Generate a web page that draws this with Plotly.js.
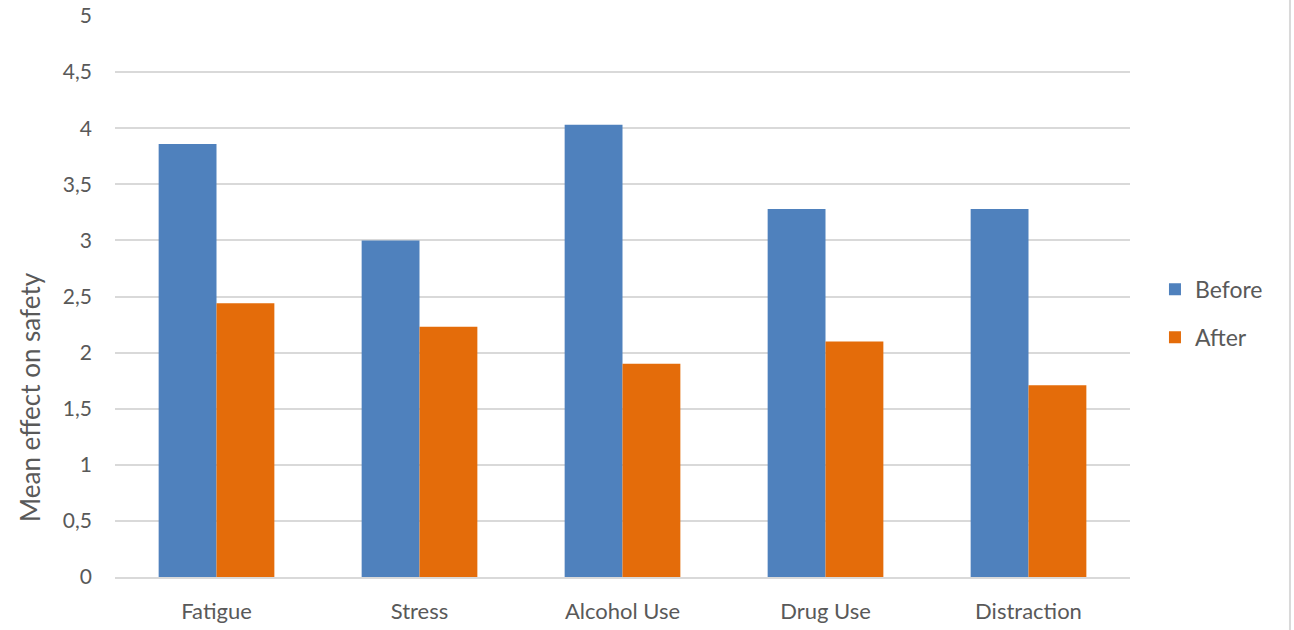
<!DOCTYPE html>
<html>
<head>
<meta charset="utf-8">
<script src="https://cdn.plot.ly/plotly-3.0.1.min.js"></script>
<style>
  html, body { margin: 0; padding: 0; background: #ffffff; }
  #chart { width: 1294px; height: 630px; }
</style>
</head>
<body>
<div id="chart"></div>
<script>
// Mean effect on safety, before and after, per factor
const categories = ["Fatigue", "Stress", "Alcohol Use", "Drug Use", "Distraction"];
const beforeValues = [3.86, 3.00, 4.03, 3.28, 3.28];
const afterValues = [2.44, 2.23, 1.90, 2.10, 1.71];
const seriesNames = ["Before", "After"];
const yAxisTitle = "Mean effect on safety";

const fontFamily = "Lato, 'Open Sans', 'Noto Sans', sans-serif";
const textColor = "#595959";
const gridColor = "#d9d9d9";

const traces = [
  {
    type: "bar",
    name: seriesNames[0],
    x: categories,
    y: beforeValues,
    marker: { color: "#4f81bd" },
    legendgroup: "g1",
    hoverinfo: "x+y+name"
  },
  {
    type: "bar",
    name: seriesNames[1],
    x: categories,
    y: afterValues,
    marker: { color: "#e46c0a" },
    legendgroup: "g2",
    hoverinfo: "x+y+name"
  }
];

const layout = {
  width: 1294,
  height: 630,
  paper_bgcolor: "#ffffff",
  plot_bgcolor: "#ffffff",
  separators: ",.",
  margin: { l: 115, r: 164, t: 16, b: 53 },
  barmode: "group",
  bargap: 0.43,
  bargroupgap: 0,
  font: { family: fontFamily, color: textColor, size: 16 },
  xaxis: {
    type: "category",
    showgrid: false,
    showline: true,
    linecolor: gridColor,
    linewidth: 2,
    ticks: "",
    ticklabelstandoff: 14,
    tickfont: { family: fontFamily, size: 22, color: textColor },
    fixedrange: true
  },
  yaxis: {
    range: [0, 5],
    dtick: 0.5,
    tick0: 0,
    showgrid: true,
    gridcolor: gridColor,
    gridwidth: 2,
    zeroline: false,
    showline: false,
    ticks: "",
    ticklabelstandoff: 22,
    tickfont: { family: fontFamily, size: 21, color: textColor },
    automargin: false,
    fixedrange: true
  },
  // axis title sits lower than the plot centre, so it is placed as a rotated annotation
  annotations: [
    {
      text: yAxisTitle,
      xref: "paper",
      yref: "paper",
      x: -0.0837,
      y: 0.321,
      xanchor: "center",
      yanchor: "middle",
      textangle: -90,
      showarrow: false,
      font: { family: fontFamily, size: 26, color: textColor }
    }
  ],
  legend: {
    x: 1.0246,
    xanchor: "left",
    y: 0.47,
    yanchor: "middle",
    traceorder: "grouped",
    tracegroupgap: 15,
    font: { family: fontFamily, size: 23, color: textColor },
    bgcolor: "rgba(0,0,0,0)"
  },
  shapes: [
    {
      type: "line",
      xref: "paper",
      yref: "paper",
      x0: 1.1576,
      x1: 1.1576,
      y0: -0.1,
      y1: 1.03,
      line: { color: gridColor, width: 2 }
    }
  ]
};

Plotly.newPlot("chart", traces, layout, { displayModeBar: false, staticPlot: true });
</script>
</body>
</html>
